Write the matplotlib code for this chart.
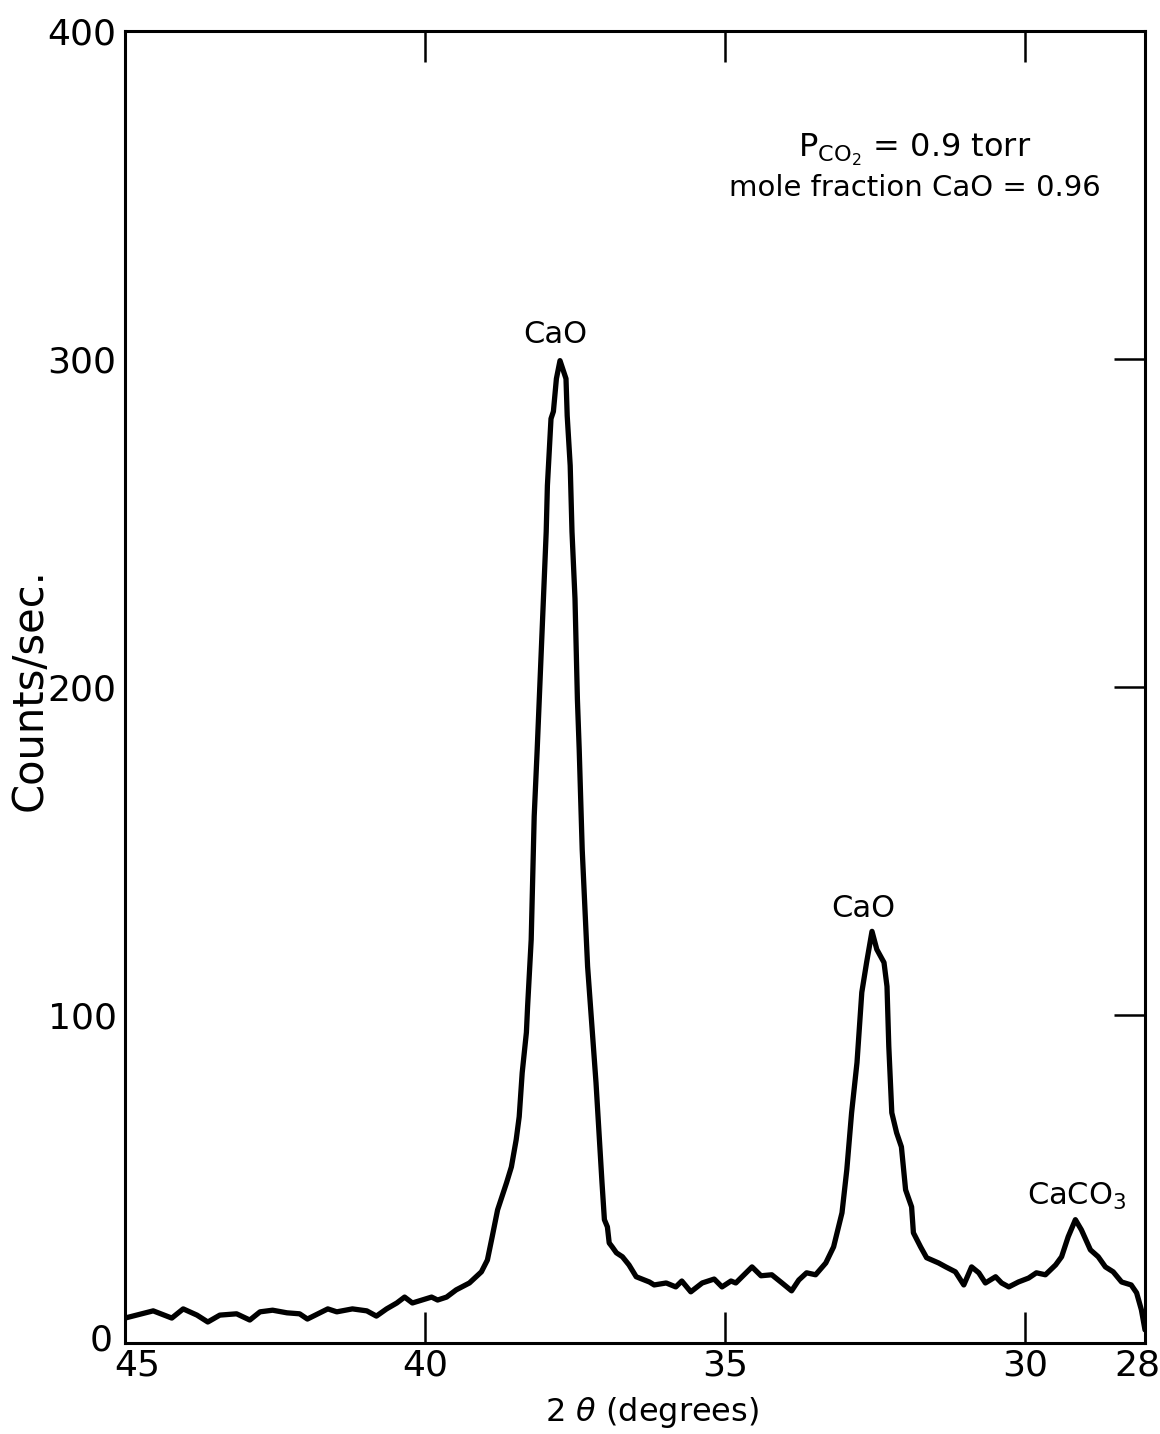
import matplotlib
matplotlib.use("Agg")
import matplotlib.pyplot as plt
import matplotlib.transforms as mtransforms

# ---- data ----
two_theta = [45.00, 44.53, 44.22, 44.03, 43.80, 43.62, 43.42, 43.14, 42.92, 42.75,
             42.54, 42.30, 42.09, 41.96, 41.62, 41.47, 41.21, 40.97, 40.81, 40.64,
             40.47, 40.34, 40.21, 39.89, 39.79, 39.64, 39.48, 39.26, 39.06, 38.96,
             38.88, 38.79, 38.64, 38.56, 38.48, 38.43, 38.38, 38.31, 38.29, 38.23,
             38.18, 38.13, 38.06, 37.98, 37.96, 37.90, 37.86, 37.81, 37.75, 37.65,
             37.63, 37.58, 37.55, 37.50, 37.48, 37.46, 37.43, 37.38, 37.31, 37.29,
             37.21, 37.15, 37.10, 37.05, 37.01, 36.96, 36.93, 36.88, 36.81, 36.71,
             36.60, 36.48, 36.26, 36.18, 35.98, 35.82, 35.72, 35.57, 35.38, 35.18,
             35.05, 34.90, 34.82, 34.55, 34.40, 34.22, 34.05, 33.89, 33.77, 33.64,
             33.49, 33.32, 33.19, 33.05, 32.97, 32.89, 32.80, 32.72, 32.64, 32.55,
             32.47, 32.35, 32.30, 32.27, 32.22, 32.14, 32.06, 31.99, 31.89, 31.86,
             31.74, 31.64, 31.44, 31.32, 31.16, 31.02, 30.89, 30.77, 30.66, 30.49,
             30.39, 30.27, 30.11, 29.94, 29.81, 29.66, 29.49, 29.39, 29.28, 29.16,
             29.06, 28.91, 28.78, 28.66, 28.53, 28.39, 28.23, 28.14, 28.06, 28.00]
counts = [7.6, 9.8, 7.6, 10.4, 8.5, 6.4, 8.5, 8.9, 7.0, 9.5,
          10.0, 9.2, 8.9, 7.3, 10.4, 9.5, 10.4, 9.8, 8.2, 10.4,
          12.2, 14.0, 12.2, 14.0, 13.1, 14.0, 16.2, 18.3, 21.7, 25.3,
          32.4, 40.6, 48.9, 53.7, 62.0, 69.0, 82.4, 94.7, 102.6, 123.0,
          160.6, 181.0, 211.6, 247.3, 261.4, 281.8, 284.0, 294.0, 299.5, 294.0,
          282.7, 267.5, 247.3, 226.9, 211.6, 196.3, 181.0, 150.5, 123.0, 114.8,
          94.7, 79.4, 64.1, 48.9, 37.6, 35.4, 30.5, 29.3, 27.5, 26.3,
          23.8, 20.2, 18.6, 17.7, 18.3, 17.1, 18.9, 15.6, 18.3, 19.5,
          17.1, 18.9, 18.3, 23.2, 20.5, 20.8, 18.3, 15.9, 19.2, 21.4,
          20.8, 24.4, 29.3, 39.7, 52.8, 70.2, 85.5, 106.9, 116.0, 125.5,
          120.0, 116.0, 108.7, 90.4, 70.2, 64.1, 59.8, 46.7, 41.5, 33.6,
          29.3, 26.0, 24.4, 23.2, 21.7, 17.7, 23.2, 21.4, 18.3, 20.2,
          18.3, 17.1, 18.6, 19.8, 21.4, 20.8, 23.8, 26.3, 32.4, 37.6,
          34.5, 28.4, 26.3, 23.2, 21.7, 18.6, 17.7, 15.3, 10.1, 4.0]

x_ticks = [45, 40, 35, 30, 28]
x_tick_labels = ["45", "40", "35", "30", "28"]
y_ticks = [0, 100, 200, 300, 400]
y_tick_labels = ["0", "100", "200", "300", "400"]

peak_labels = ["CaO", "CaO", "CaCO$_3$"]
peak_label_x = [37.83, 32.69, 29.14]
peak_label_y = [303, 128, 40]

plt.rcParams["font.family"] = ["DejaVu Sans"]
plt.rcParams["mathtext.default"] = "regular"

W, H = 1160, 1434
fig = plt.figure(figsize=(W / 100, H / 100), dpi=100)
fig.patch.set_facecolor("white")
ax = fig.add_axes([125 / W, (H - 1343) / H, (1145 - 125) / W, (1343 - 31) / H])

ax.plot(two_theta, counts, color="black", lw=3.8,
        solid_joinstyle="round", solid_capstyle="round")

ax.set_xlim(45, 28)
ax.set_ylim(0, 400)
for sp in ax.spines.values():
    sp.set_linewidth(2.2)

ax.set_xticks(x_ticks)
ax.set_xticklabels(x_tick_labels)
ax.set_yticks(y_ticks)
ax.set_yticklabels(y_tick_labels)
ax.tick_params(axis="x", direction="in", top=True, bottom=True, length=22,
               width=1.8, labelsize=26, pad=4)
ax.tick_params(axis="y", direction="in", left=False, right=True,
               labelleft=True, length=22, width=1.8, labelsize=26, pad=6)

# small nudges of the corner labels, as in the original
xl = ax.get_xticklabels()
xl[0].set_transform(xl[0].get_transform() +
                    mtransforms.ScaledTranslation(12 / 100, 0, fig.dpi_scale_trans))
xl[-1].set_transform(xl[-1].get_transform() +
                     mtransforms.ScaledTranslation(-8 / 100, 0, fig.dpi_scale_trans))
yl = ax.get_yticklabels()
yl[0].set_transform(yl[0].get_transform() +
                    mtransforms.ScaledTranslation(-4 / 100, 6 / 100, fig.dpi_scale_trans))

fig.text(30 / W, 1 - 690 / H, "Counts/sec.", rotation=90, ha="center",
         va="center", fontsize=30)
fig.text(652 / W, 1 - 1413 / H, r"2 $\mathit{\theta}$ (degrees)", ha="center",
         va="center", fontsize=23)

for lbl, lx, ly in zip(peak_labels, peak_label_x, peak_label_y):
    ax.text(lx, ly, lbl, ha="center", va="bottom", fontsize=22)

ax.text(31.84, 361.5, r"P$_{CO_2}$ = 0.9 torr", ha="center", va="baseline",
        fontsize=23)
ax.text(31.84, 349.6, "mole fraction CaO = 0.96", ha="center", va="baseline",
        fontsize=21)

fig.savefig("out.png", dpi=100, facecolor="white")
